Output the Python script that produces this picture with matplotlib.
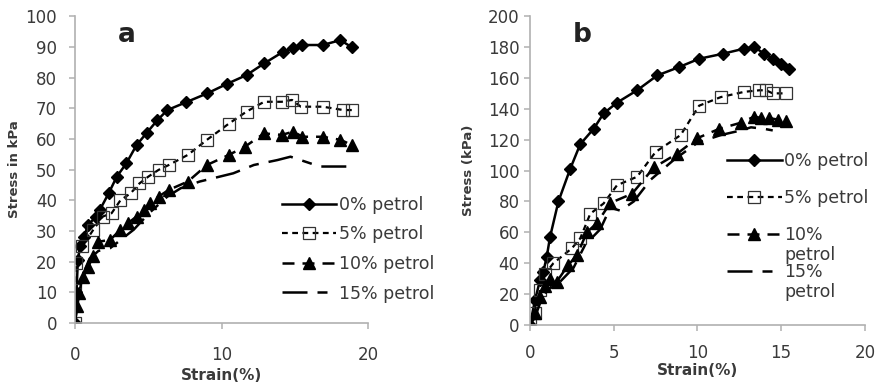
import matplotlib.pyplot as plt

plt.rcParams['font.family'] = ['DejaVu Sans']

# ---------------- panel a data ----------------
a0_x = [0, 0.1, 0.2, 0.35, 0.6, 0.9, 1.4, 1.7, 2.3, 2.85, 3.5, 4.2, 4.9, 5.6, 6.3, 7.6, 9.0, 10.4, 11.7, 12.9, 14.2, 14.9, 15.5, 16.9, 18.1, 18.9]
a0_y = [0, 10, 20.5, 25, 28, 32, 34.5, 36.9, 42.3, 47.7, 52, 58, 62, 66, 69.4, 72, 74.8, 78, 80.8, 84.6, 88.4, 89.5, 90.6, 90.6, 92.2, 89.8]

a5_x = [0, 0.0, 0.07, 0.5, 1.25, 1.9, 2.5, 3.1, 3.8, 4.4, 5.0, 5.7, 6.4, 7.7, 9.0, 10.5, 11.7, 12.9, 14.1, 14.8, 15.4, 16.9, 18.3, 18.9]
a5_y = [0, 10.8, 19.5, 25, 30.4, 34.7, 35.8, 40, 42.3, 45.5, 47.7, 49.9, 51.5, 54.8, 59.7, 65, 68.9, 72.1, 72.1, 72.7, 70.5, 70.5, 69.4, 69.4]

a10_x = [0, 0.15, 0.3, 0.55, 0.9, 1.25, 1.6, 2.4, 3.1, 3.6, 4.2, 4.7, 5.1, 5.7, 6.4, 7.7, 9.0, 10.5, 11.6, 12.9, 14.1, 14.9, 15.5, 16.9, 18.1, 18.9]
a10_y = [0, 5.4, 9.8, 15, 18.4, 21.7, 26.5, 27.1, 30.4, 32.5, 34.7, 36.9, 39, 41.2, 43.4, 46.1, 51.5, 54.8, 57.5, 61.8, 61.3, 62.4, 60.7, 60.7, 59.7, 58]

a15_x = [0, 0.2, 0.55, 1.0, 1.6, 2.4, 4.0, 5.1, 6.3, 7.2, 8.5, 10.8, 12.2, 13.8, 14.7, 16.7, 18.9]
a15_y = [0, 7.6, 16, 21, 23.5, 24.4, 30.4, 36, 41.2, 43.9, 46.1, 48.8, 51.5, 53.1, 54.2, 51, 51]

# ---------------- panel b data ----------------
b0_x = [0, 0.3, 0.6, 0.8, 1.0, 1.2, 1.7, 2.4, 3.0, 3.8, 4.4, 5.2, 6.4, 7.6, 8.9, 10.1, 11.5, 12.8, 13.4, 14.0, 14.5, 15.0, 15.5]
b0_y = [0, 16, 29, 34.5, 44, 57, 80, 101, 117, 127, 137, 144, 152, 161.6, 167, 172.4, 175.6, 179, 180, 175.6, 172.4, 169, 166]

b5_x = [0, 0.3, 0.6, 0.9, 1.4, 2.5, 3.0, 3.6, 4.4, 5.2, 6.4, 7.5, 9.0, 10.1, 11.4, 12.8, 13.7, 14.1, 14.5, 15.3]
b5_y = [0, 7.5, 22.6, 33, 40, 49.6, 56, 72, 78.7, 90.5, 96, 112, 123, 142, 147.6, 151, 152, 152, 150, 150]

b10_x = [0, 0.3, 0.6, 0.9, 1.2, 1.6, 2.3, 2.8, 3.4, 4.0, 4.8, 6.1, 7.4, 8.8, 10.0, 11.3, 12.6, 13.4, 13.8, 14.3, 14.8, 15.3]
b10_y = [0, 8, 18, 25, 30, 28, 39, 45, 60, 66, 79, 85, 102, 111, 121, 127, 131, 135, 134, 134, 133, 132]

b15_x = [0, 0.3, 0.6, 1.0, 1.4, 1.8, 2.6, 3.3, 4.2, 4.8, 5.4, 6.2, 7.2, 8.6, 10.0, 11.4, 12.6, 13.2, 14.0, 14.5]
b15_y = [0, 5, 14, 22, 26, 28, 37, 52, 62, 76, 74, 80, 94, 107, 118, 123, 126, 128, 127, 126]

labels_a = ['0% petrol', '5% petrol', '10% petrol', '15% petrol']
labels_b = ['0% petrol', '5% petrol', '10%', '15%']

fig = plt.figure(figsize=(8.78, 3.85), dpi=100)
ax1 = fig.add_axes([0.0854, 0.161, 0.334, 0.797])
ax2 = fig.add_axes([0.6036, 0.156, 0.3814, 0.802])

spine_col = '#b0b0b0'
txt_col = '#3a3a3a'


def draw(ax, series, labels):
    (x0, y0), (x5, y5), (x10, y10), (x15, y15) = series
    ax.plot(x0, y0, color='black', lw=1.8, marker='D', ms=6, label=labels[0])
    ax.plot(x5, y5, color='black', lw=1.6, dashes=(2.6, 2), marker='s', ms=9,
            mfc='none', mec='#333333', mew=0.9, label=labels[1])
    ax.plot(x10, y10, color='black', lw=1.8, dashes=(4.8, 3.2), marker='^', ms=8,
            label=labels[2])
    ax.plot(x15, y15, color='black', lw=1.8, dashes=(10, 4, 4, 4), label=labels[3])
    for s in ['top', 'right']:
        ax.spines[s].set_visible(False)
    for s in ['left', 'bottom']:
        ax.spines[s].set_color(spine_col)
        ax.spines[s].set_linewidth(1.2)
    ax.tick_params(colors=spine_col, labelcolor=txt_col, labelsize=12, length=4.5, width=1.1)
    ax.set_xlim(0, 20)


draw(ax1, [(a0_x, a0_y), (a5_x, a5_y), (a10_x, a10_y), (a15_x, a15_y)], labels_a)
ax1.set_ylim(0, 100)
ax1.set_yticks(range(0, 101, 10))
ax1.set_xticks([0, 10, 20])
ax1.tick_params(axis='y', pad=8.5)
ax1.tick_params(axis='x', pad=12)
ax1.set_xlabel('Strain(%)', fontsize=11, fontweight='bold', color=txt_col, labelpad=3)
ax1.set_ylabel('Stress in kPa', fontsize=9.5, fontweight='bold', color=txt_col, labelpad=3)
ax1.text(0.177, 0.94, 'a', transform=ax1.transAxes, fontsize=19, fontweight='bold',
         va='center', ha='center', color='#222222')
ax1.legend(loc='upper left', bbox_to_anchor=(0.705, 0.415), frameon=False, fontsize=12.5,
           handlelength=3.15, handletextpad=0.15, labelspacing=0.67, borderpad=0,
           borderaxespad=0, labelcolor=txt_col)

draw(ax2, [(b0_x, b0_y), (b5_x, b5_y), (b10_x, b10_y), (b15_x, b15_y)], labels_b)
ax2.set_ylim(0, 200)
ax2.set_yticks(range(0, 201, 20))
ax2.set_xticks([0, 5, 10, 15, 20])
ax2.tick_params(axis='y', pad=3)
ax2.tick_params(axis='x', pad=9)
ax2.set_xlabel('Strain(%)', fontsize=11, fontweight='bold', color=txt_col, labelpad=1)
ax2.set_ylabel('Stress (kPa)', fontsize=9.5, fontweight='bold', color=txt_col, labelpad=9)
ax2.text(0.155, 0.94, 'b', transform=ax2.transAxes, fontsize=19, fontweight='bold',
         va='center', ha='center', color='#222222')
leg = ax2.legend(loc='upper left', bbox_to_anchor=(0.588, 0.56), frameon=False, fontsize=12.5,
                 handlelength=3.15, handletextpad=0.15, labelspacing=1.1, borderpad=0,
                 borderaxespad=0, labelcolor=txt_col)
# wrapped second line of the 10% / 15% labels
for t in leg.get_texts()[2:]:
    ax2.annotate('petrol', xy=(0, 0), xycoords=t, xytext=(0, -1), textcoords='offset points',
                 ha='left', va='top', fontsize=12.5, color=txt_col, zorder=6)

fig.savefig('out.png', dpi=100)
